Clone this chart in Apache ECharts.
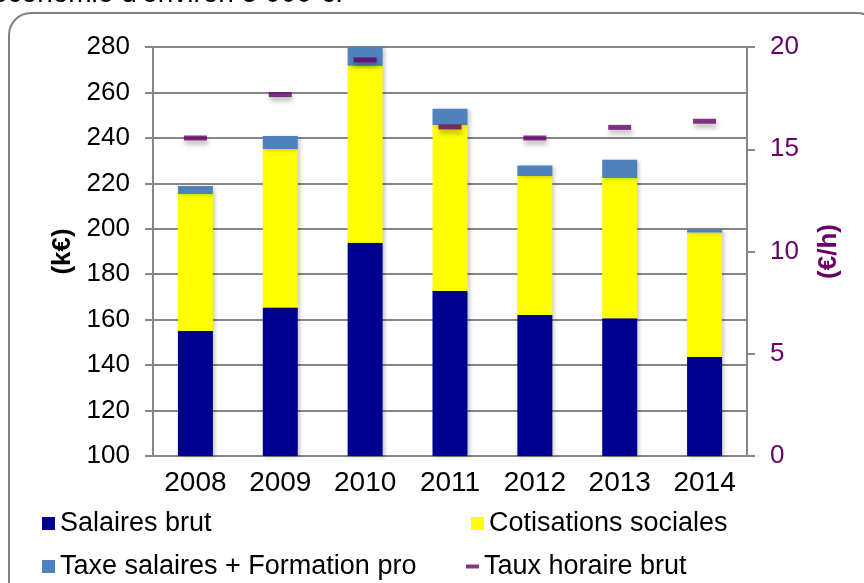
<!DOCTYPE html>
<html>
<head>
    <meta charset="utf-8" />
    <title>Masse salariale</title>
    <script src="https://cdn.jsdelivr.net/npm/echarts@6/dist/echarts.min.js"></script>
    <style>
        html, body { margin: 0; padding: 0; background: #fff; }
    </style>
</head>
<body>
    <div id="main" style="width: 864px;height:583px;"></div>

    <script type="text/javascript">
        var years = ['2008', '2009', '2010', '2011', '2012', '2013', '2014'];
        // k€
        var salaires = [155, 165.3, 193.9, 172.6, 162, 160.6, 143.6];
        var cotisations = [60.3, 69.8, 77.9, 73.1, 61.2, 61.7, 54.8];
        var taxe = [3.5, 5.7, 8.2, 7.1, 4.6, 8.1, 1.4];
        // €/h
        var taux = [15.55, 17.67, 19.37, 16.09, 15.55, 16.07, 16.37];

        var font = "'Liberation Sans', Arial, sans-serif";
        var gridGray = '#868686';
        var purple = '#660066';

        var myChart = echarts.init(document.getElementById('main'));

        var barShadow = {
            shadowColor: 'rgba(0,0,0,0.22)',
            shadowBlur: 4,
            shadowOffsetX: 2,
            shadowOffsetY: 1
        };
        var legendText = { fontSize: 27, color: '#000', fontFamily: font };

        // one legend per entry, placed like the 2x2 grid of the original
        function legendAt(name, left, top, h) {
            return {
                left: left,
                top: top,
                icon: 'rect',
                itemWidth: 13,
                itemHeight: h || 13,
                textStyle: legendText,
                data: [name]
            };
        }

        var option = {
            animation: false,
            textStyle: { fontFamily: font },
            graphic: [
                {
                    type: 'rect',
                    shape: { x: 9, y: 13, width: 870, height: 620, r: 22 },
                    style: { fill: 'none', stroke: '#7f7f7f', lineWidth: 2 },
                    z: -10
                },
                {
                    type: 'text',
                    left: -8,
                    top: -20,
                    style: {
                        text: 'économie d\'environ 5 000 €.',
                        font: '28px ' + font,
                        fill: '#000'
                    }
                }
            ],
            grid: {
                left: 153,
                right: 117,
                top: 47,
                bottom: 127
            },
            legend: [
                legendAt('Salaires brut', 37, 505),
                legendAt('Taxe salaires + Formation pro', 37, 548),
                legendAt('Cotisations sociales', 466, 505),
                legendAt('Taux horaire brut', 461, 548, 4)
            ],
            xAxis: {
                type: 'category',
                data: years,
                axisLine: { lineStyle: { color: gridGray, width: 2 } },
                axisTick: { length: 7, lineStyle: { color: gridGray, width: 2 } },
                axisLabel: { fontSize: 28, color: '#000', margin: 13 }
            },
            yAxis: [
                {
                    type: 'value',
                    min: 100,
                    max: 280,
                    interval: 20,
                    name: '(k€)',
                    nameLocation: 'middle',
                    nameGap: 76,
                    nameTextStyle: { fontSize: 26, fontWeight: 'bold', color: '#000' },
                    axisLine: { show: true, lineStyle: { color: gridGray, width: 2 } },
                    axisTick: { show: true, length: 8, lineStyle: { color: gridGray, width: 2 } },
                    axisLabel: { fontSize: 26, color: '#000', margin: 23 },
                    splitLine: { lineStyle: { color: gridGray, width: 2 } }
                },
                {
                    type: 'value',
                    min: 0,
                    max: 20,
                    interval: 5,
                    name: '(€/h)',
                    nameLocation: 'middle',
                    nameGap: 69,
                    nameTextStyle: { fontSize: 26, fontWeight: 'bold', color: purple },
                    axisLine: { show: true, lineStyle: { color: gridGray, width: 2 } },
                    axisTick: { show: true, length: 8, lineStyle: { color: gridGray, width: 2 } },
                    axisLabel: { fontSize: 26, color: purple, margin: 23 },
                    splitLine: { show: false }
                }
            ],
            series: [
                {
                    name: 'Salaires brut',
                    type: 'bar',
                    stack: 'total',
                    barWidth: 35,
                    itemStyle: Object.assign({ color: '#000090' }, barShadow),
                    data: salaires
                },
                {
                    name: 'Cotisations sociales',
                    type: 'bar',
                    stack: 'total',
                    itemStyle: Object.assign({ color: '#ffff00' }, barShadow),
                    data: cotisations
                },
                {
                    name: 'Taxe salaires + Formation pro',
                    type: 'bar',
                    stack: 'total',
                    itemStyle: Object.assign({ color: '#4f81bd' }, barShadow),
                    data: taxe
                },
                {
                    name: 'Taux horaire brut',
                    type: 'scatter',
                    yAxisIndex: 1,
                    symbol: 'rect',
                    symbolSize: [23, 5],
                    z: 5,
                    itemStyle: {
                        color: purple,
                        shadowColor: 'rgba(0,0,0,0.35)',
                        shadowBlur: 5,
                        shadowOffsetX: 1,
                        shadowOffsetY: 4
                    },
                    data: taux
                }
            ]
        };

        myChart.setOption(option);
    </script>
</body>
</html>
